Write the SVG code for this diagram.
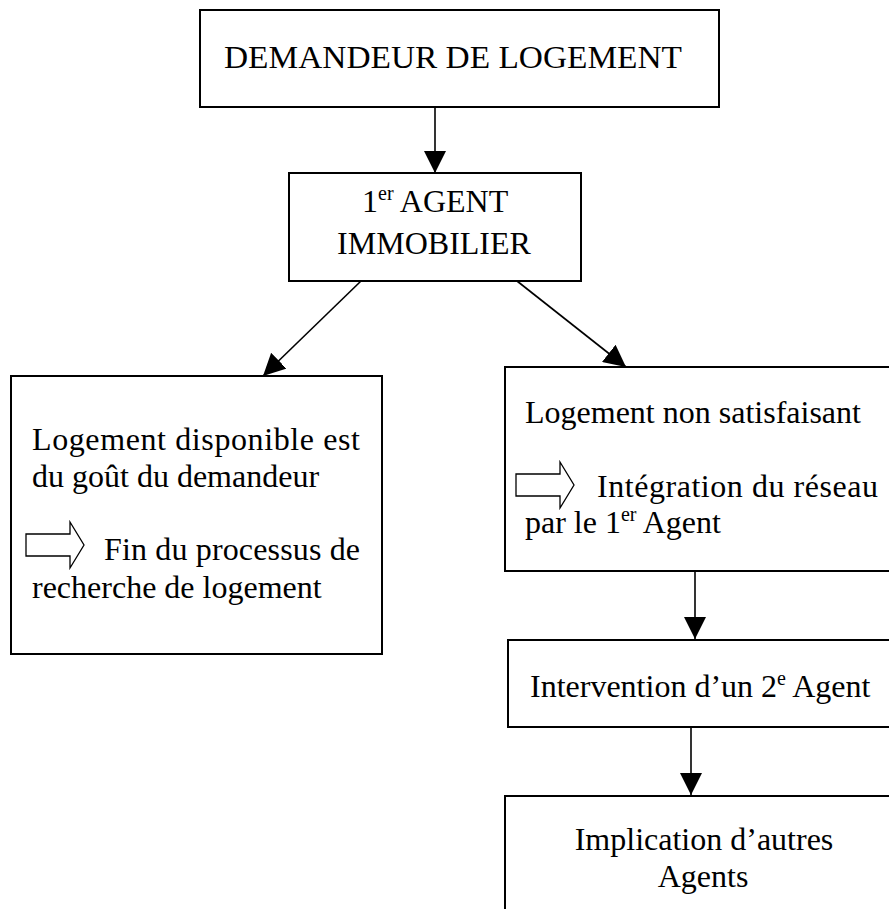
<svg xmlns="http://www.w3.org/2000/svg" width="889" height="909" viewBox="0 0 889 909">
<style>
.box{fill:#fff;stroke:#000;stroke-width:2}
.t{font-family:"Liberation Serif","Times New Roman",serif;font-size:32px;fill:#000}
.c{stroke:#000;stroke-width:1.6;fill:none}
.ha{fill:#fff;stroke:#000;stroke-width:1.3}
.sup{font-size:20px}
</style>
<defs>
<marker id="ah" markerUnits="userSpaceOnUse" markerWidth="22" markerHeight="22" viewBox="0 0 20 20" refX="20" refY="10" orient="auto">
<path d="M0,0 L20,10 L0,20 z" fill="#000"/>
</marker>
<path id="hollow" class="ha" d="M0,-11 L44,-11 L44,-23 L58,0 L44,23 L44,11 L0,11 z"/>
</defs>
<rect width="889" height="909" fill="#fff"/>
<g id="connectors">
<line class="c" x1="435" y1="107" x2="435" y2="173" marker-end="url(#ah)"/>
<line class="c" x1="361" y1="281" x2="263" y2="376" marker-end="url(#ah)"/>
<line class="c" x1="517" y1="281" x2="626" y2="367" marker-end="url(#ah)"/>
<line class="c" x1="695" y1="571" x2="695" y2="639" marker-end="url(#ah)"/>
<line class="c" x1="691" y1="728" x2="691" y2="795" marker-end="url(#ah)"/>
</g>
<g id="node-demandeur">
<rect class="box" x="200" y="10" width="519" height="97"/>
<text class="t" x="224" y="68" textLength="458" lengthAdjust="spacingAndGlyphs">DEMANDEUR DE LOGEMENT</text>
</g>
<g id="node-agent1">
<rect class="box" x="289" y="173" width="292" height="108"/>
<text class="t" x="362" y="212">1<tspan class="sup" dy="-12">er</tspan><tspan dy="12"> AGENT</tspan></text>
<text class="t" x="434" y="254" text-anchor="middle">IMMOBILIER</text>
</g>
<g id="node-disponible">
<rect class="box" x="11" y="376" width="371" height="278"/>
<text class="t" x="32" y="450" textLength="328" lengthAdjust="spacing">Logement disponible est</text>
<text class="t" x="32" y="487">du goût du demandeur</text>
<use href="#hollow" x="26" y="545"/>
<text class="t" x="104" y="560" textLength="256" lengthAdjust="spacing">Fin du processus de</text>
<text class="t" x="32" y="598">recherche de logement</text>
</g>
<g id="node-nonsatisfaisant">
<rect class="box" x="505" y="367" width="400" height="204"/>
<text class="t" x="525" y="423">Logement non satisfaisant</text>
<use href="#hollow" x="516" y="485"/>
<text class="t" x="597" y="497" textLength="281" lengthAdjust="spacing">Intégration du réseau</text>
<text class="t" x="525" y="533">par le 1<tspan class="sup" dy="-12">er</tspan><tspan dy="12"> Agent</tspan></text>
</g>
<g id="node-agent2">
<rect class="box" x="508" y="640" width="400" height="87"/>
<text class="t" x="530" y="697">Intervention d’un 2<tspan class="sup" dy="-12">e</tspan><tspan dy="12"> Agent</tspan></text>
</g>
<g id="node-autres">
<rect class="box" x="505" y="796" width="400" height="140"/>
<text class="t" x="704" y="850" text-anchor="middle">Implication d’autres</text>
<text class="t" x="703" y="887" text-anchor="middle">Agents</text>
</g>
</svg>
